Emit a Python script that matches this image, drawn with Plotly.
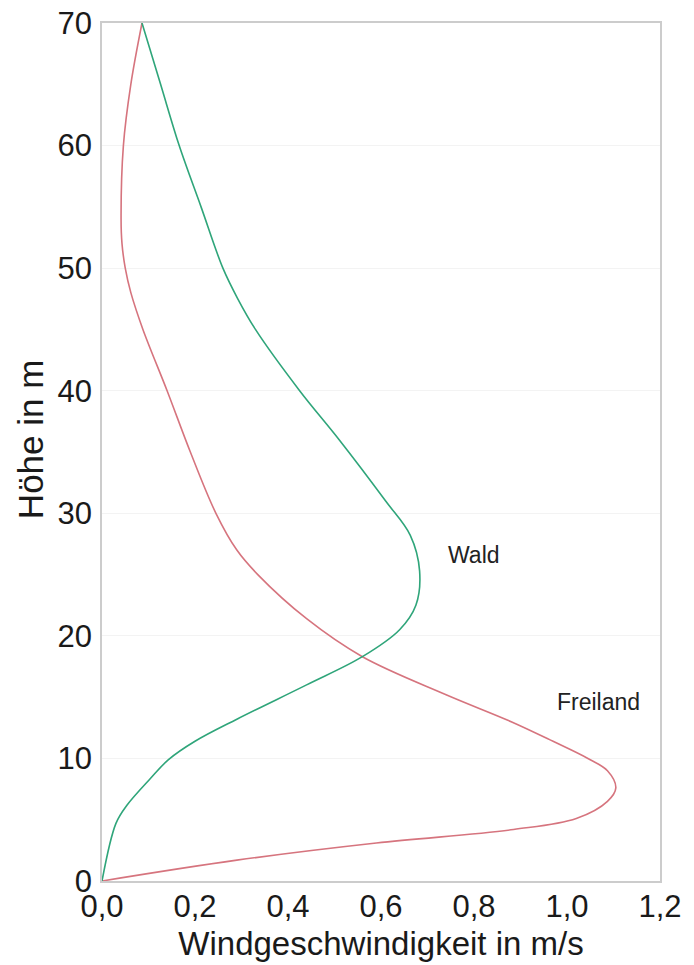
import plotly.graph_objects as go

# Wald (forest) profile: height (m) and wind speed (m/s)
wald_hoehe = [0, 4.7, 6.2, 8.4, 9.9, 11.4, 13.2, 16, 18.3, 20.5, 22.5, 25.3, 28.2, 31, 36, 40, 45, 47.5, 50, 55, 60, 65, 70]
wald_speed = [0, 0.03, 0.054, 0.105, 0.143, 0.2, 0.29, 0.44, 0.56, 0.64, 0.675, 0.683, 0.663, 0.61, 0.51, 0.425, 0.33, 0.292, 0.26, 0.213, 0.166, 0.126, 0.086]

# Freiland (open land) profile
frei_hoehe = [0, 1.7, 3.1, 4.2, 5.1, 6.5, 7.6, 9.0, 10, 11.4, 13, 15.2, 18.3, 21.4, 25, 27, 30, 35, 40, 45, 48, 50, 52, 54, 60, 65, 70]
frei_speed = [0, 0.29, 0.59, 0.885, 1.02, 1.087, 1.105, 1.087, 1.045, 0.97, 0.88, 0.74, 0.56, 0.44, 0.335, 0.29, 0.245, 0.19, 0.14, 0.088, 0.062, 0.05, 0.043, 0.041, 0.046, 0.062, 0.086]

x_ticks = [0, 0.2, 0.4, 0.6, 0.8, 1.0, 1.2]
x_tick_labels = ["0,0", "0,2", "0,4", "0,6", "0,8", "1,0", "1,2"]
y_ticks = [0, 10, 20, 30, 40, 50, 60, 70]

labels = ["Wald", "Freiland"]
label_x = [0.80, 1.067]
label_y = [26.6, 14.6]

FONT = "Liberation Sans, Arial, Helvetica, sans-serif"

fig = go.Figure()
fig.add_trace(go.Scatter(x=frei_speed, y=frei_hoehe, mode="lines",
                         line=dict(color="#d6747e", width=1.6, shape="spline", smoothing=1.0),
                         name="Freiland", showlegend=False))
fig.add_trace(go.Scatter(x=wald_speed, y=wald_hoehe, mode="lines",
                         line=dict(color="#2fa57a", width=1.6, shape="spline", smoothing=1.0),
                         name="Wald", showlegend=False))

for t, xx, yy in zip(labels, label_x, label_y):
    fig.add_annotation(x=xx, y=yy, text=t, showarrow=False,
                       font=dict(family=FONT, size=23, color="#222222"))

tick_font = dict(family=FONT, size=31, color="#1a1a1a")
title_font = dict(family=FONT, size=33, color="#1a1a1a")

# y-axis title as a rotated annotation (placed left of the tick labels)
fig.add_annotation(xref="paper", yref="paper", x=-0.129, y=0.515, text="Höhe in m",
                   textangle=-90, showarrow=False, xanchor="center", yanchor="middle",
                   font=dict(family=FONT, size=35, color="#1a1a1a"))

# The page body has an 8px margin, so the figure is 8px smaller and margins shifted.
fig.update_layout(
    width=686, height=957,
    margin=dict(l=94, r=34, t=15, b=84),
    paper_bgcolor="white", plot_bgcolor="white",
    xaxis=dict(range=[0, 1.2], tickvals=x_ticks, ticktext=x_tick_labels,
               showgrid=False, zeroline=False, showline=True, mirror=True,
               linecolor="#cccccc", linewidth=1.5, ticks="", tickfont=tick_font,
               ticklabelstandoff=-3, automargin=False, ticklabeloverflow="allow",
               title=dict(text="Windgeschwindigkeit in m/s", font=title_font, standoff=9)),
    yaxis=dict(range=[0, 70], tickvals=y_ticks,
               showgrid=True, gridcolor="#f3f3f3", gridwidth=1, zeroline=False,
               showline=True, mirror=True, linecolor="#cccccc", linewidth=1.5,
               ticks="", tickfont=tick_font, ticklabelstandoff=2, automargin=False,
               ticklabeloverflow="allow"),
)

fig.write_html("out.html")
